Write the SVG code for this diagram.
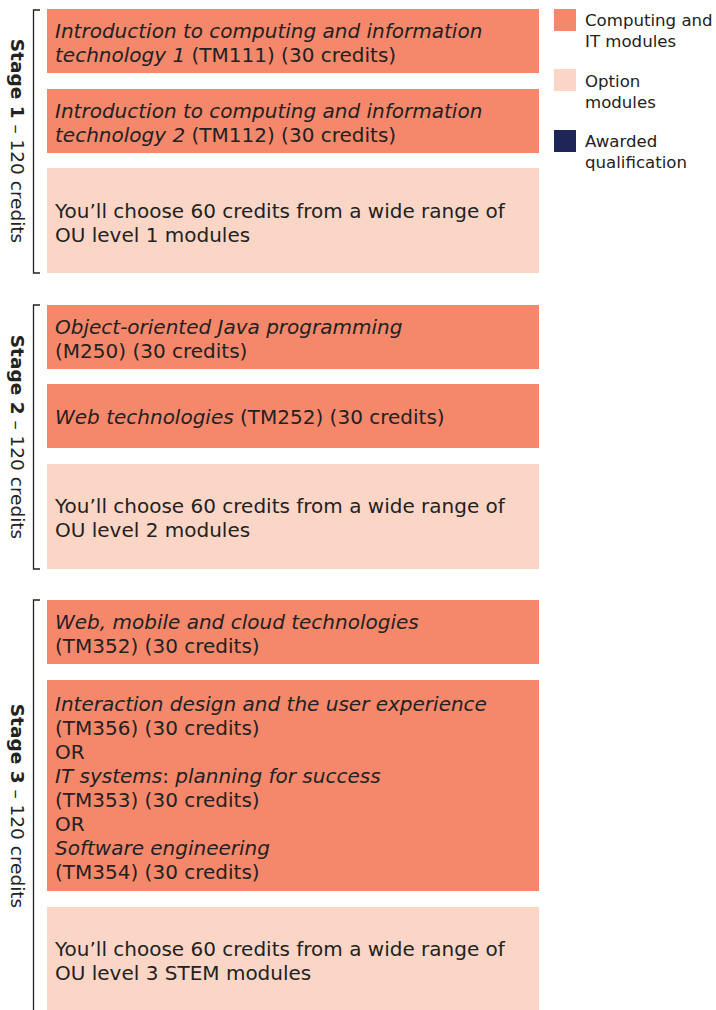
<svg xmlns="http://www.w3.org/2000/svg" width="716" height="1010" viewBox="0 0 716 1010">
<style>
.core{fill:#F5876B}
.opt{fill:#FBD6C7}
.award{fill:#1F2557}
text{font-family:"DejaVu Sans","Liberation Sans",sans-serif;fill:#222222}
.t{font-size:20px}
.i{font-style:italic}
.lg{font-size:16.6px}
.st{font-size:18.5px}
.b{font-weight:bold}
.br{fill:none;stroke:#222222;stroke-width:1.3}
</style>
<rect width="716" height="1010" fill="#ffffff"/>
<g id="connectors">
<path class="br" d="M40,10 H33.5 V273 H40"/>
<path class="br" d="M40,305 H33.5 V569 H40"/>
<path class="br" d="M40,600 H33.5 V1010"/>
</g>
<g id="stage1-label"><text class="st" transform="translate(11,141) rotate(90)" text-anchor="middle"><tspan class="b">Stage 1</tspan> – 120 credits</text></g>
<g id="stage2-label"><text class="st" transform="translate(11,437) rotate(90)" text-anchor="middle"><tspan class="b">Stage 2</tspan> – 120 credits</text></g>
<g id="stage3-label"><text class="st" transform="translate(11,806) rotate(90)" text-anchor="middle"><tspan class="b">Stage 3</tspan> – 120 credits</text></g>
<g id="tm111"><rect class="core" x="47" y="9" width="492" height="64"/>
<text class="t" x="55" y="38"><tspan class="i">Introduction to computing and information</tspan></text>
<text class="t" x="55" y="62"><tspan class="i">technology 1</tspan> (TM111) (30 credits)</text></g>
<g id="tm112"><rect class="core" x="47" y="89" width="492" height="64"/>
<text class="t" x="55" y="118"><tspan class="i">Introduction to computing and information</tspan></text>
<text class="t" x="55" y="142"><tspan class="i">technology 2</tspan> (TM112) (30 credits)</text></g>
<g id="option1"><rect class="opt" x="47" y="168" width="492" height="105"/>
<text class="t" x="55" y="218">You’ll choose 60 credits from a wide range of</text>
<text class="t" x="55" y="242">OU level 1 modules</text></g>
<g id="m250"><rect class="core" x="47" y="305" width="492" height="64"/>
<text class="t" x="55" y="334"><tspan class="i">Object-oriented Java programming</tspan></text>
<text class="t" x="55" y="358">(M250) (30 credits)</text></g>
<g id="tm252"><rect class="core" x="47" y="384" width="492" height="64"/>
<text class="t" x="55" y="424"><tspan class="i">Web technologies</tspan> (TM252) (30 credits)</text></g>
<g id="option2"><rect class="opt" x="47" y="464" width="492" height="105"/>
<text class="t" x="55" y="513">You’ll choose 60 credits from a wide range of</text>
<text class="t" x="55" y="537">OU level 2 modules</text></g>
<g id="tm352"><rect class="core" x="47" y="600" width="492" height="64"/>
<text class="t" x="55" y="629"><tspan class="i">Web, mobile and cloud technologies</tspan></text>
<text class="t" x="55" y="653">(TM352) (30 credits)</text></g>
<g id="tm356-choice"><rect class="core" x="47" y="680" width="492" height="211"/>
<text class="t" x="55" y="711"><tspan class="i">Interaction design and the user experience</tspan></text>
<text class="t" x="55" y="735">(TM356) (30 credits)</text>
<text class="t" x="55" y="759">OR</text>
<text class="t" x="55" y="783"><tspan class="i">IT systems</tspan>: <tspan class="i">planning for success</tspan></text>
<text class="t" x="55" y="807">(TM353) (30 credits)</text>
<text class="t" x="55" y="831">OR</text>
<text class="t" x="55" y="855"><tspan class="i">Software engineering</tspan></text>
<text class="t" x="55" y="879">(TM354) (30 credits)</text></g>
<g id="option3"><rect class="opt" x="47" y="907" width="492" height="103"/>
<text class="t" x="55" y="956">You’ll choose 60 credits from a wide range of</text>
<text class="t" x="55" y="980">OU level 3 STEM modules</text></g>
<g id="legend">
<rect class="core" x="554" y="9" width="22" height="22"/>
<text class="lg" x="585" y="26">Computing and</text>
<text class="lg" x="585" y="47">IT modules</text>
<rect class="opt" x="554" y="69" width="22" height="22"/>
<text class="lg" x="585" y="87">Option</text>
<text class="lg" x="585" y="108">modules</text>
<rect class="award" x="554" y="130" width="22" height="22"/>
<text class="lg" x="585" y="147">Awarded</text>
<text class="lg" x="585" y="168">qualification</text>
</g>
</svg>
